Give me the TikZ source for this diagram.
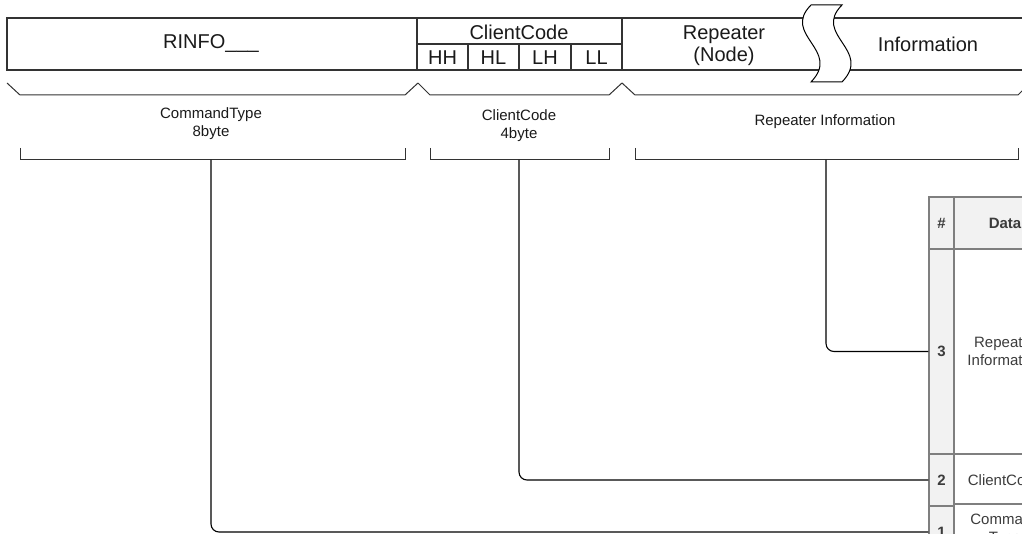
\documentclass[tikz,border=0pt]{standalone}
\usepackage{fontspec}
\setmainfont{Liberation Sans}
\definecolor{ink}{HTML}{1A1A1A}
\definecolor{edge}{HTML}{333333}
\definecolor{grid}{HTML}{7F7F7F}
\definecolor{shade}{HTML}{F2F2F2}
\begin{document}
\begin{tikzpicture}[x=1pt,y=-1pt,
  big/.style={font=\fontsize{20}{22}\selectfont, text=ink, inner sep=0pt, align=center},
  small/.style={font=\fontsize{15}{18}\selectfont, text=ink, inner sep=0pt, align=center},
  bar/.style={draw=edge, line width=1.1pt},
  brace/.style={draw=edge, line width=1pt, line join=miter},
  conn/.style={draw=black, line width=1.1pt, rounded corners=8pt},
  cell/.style={draw=grid, line width=1.4pt, inner sep=0pt, font=\fontsize{15}{18}\selectfont, text=ink!85, align=center},
  numcell/.style={cell, fill=shade, minimum width=25pt, font=\fontsize{15}{18}\selectfont\bfseries},
  datacell/.style={cell, minimum width=102pt},
]
\useasboundingbox (0,0) rectangle (1022,534);
\clip (0,0) rectangle (1022,534);

% ---- frame bar ----
\draw[bar] (7,18) rectangle (417,70);
\node[big] (rinfo) at (211,44) {RINFO\_\_\_};

\draw[bar] (417,18) rectangle (622,70);
\draw[bar] (417,44) -- (622,44);
\draw[bar] (468,44) -- (468,70) (519,44) -- (519,70) (571,44) -- (571,70);
\node[big] (cc) at (519,32) {ClientCode};
\node[big] (hh) at (442.5,57.5) {HH};
\node[big] (hl) at (493.5,57.5) {HL};
\node[big] (lh) at (545,57.5) {LH};
\node[big] (ll) at (596.5,57.5) {LL};

\draw[bar] (622,18) -- (1030,18) (622,70) -- (1030,70);
\node[big] (rep) at (724,45.5) {Repeater\\(Node)};
\node[big] (info) at (928,44.5) {Information};

% break mark
\draw[draw=black, line width=1pt, fill=white]
  (811,5) -- (842,5)
  .. controls (812,35) and (873,50) .. (842,82)
  -- (811,82)
  .. controls (842,50) and (781,35) .. (811,5) -- cycle;

% ---- braces ----
\draw[brace] (7,83) -- (20,95) -- (405,95) -- (418,83);
\draw[brace] (418,83) -- (430,95) -- (609,95) -- (622,83);
\draw[brace] (622,83) -- (635,95) -- (1018,95) -- (1030,83);

\node[small] (lab1) at (211,123.5) {CommandType\\8byte};
\node[small] (lab2) at (519,126) {ClientCode\\4byte};
\node[small] (lab3) at (825,122) {Repeater Information};

% ---- brackets ----
\draw[brace] (20,148) -- (20,160) -- (405,160) -- (405,148);
\draw[brace] (430,148) -- (430,160) -- (609,160) -- (609,148);
\draw[brace] (635,148) -- (635,160) -- (1018,160) -- (1018,148);
\coordinate (s1) at (211,160);
\coordinate (s2) at (519,160);
\coordinate (s3) at (826,160);

% ---- table ----
\node[numcell, minimum height=52pt] (hnum) at (941.5,223) {\#};
\node[datacell, fill=shade, minimum height=52pt, font=\fontsize{15}{18}\selectfont\bfseries] (hdata) at (1005,223) {Data};
\node[numcell, minimum height=205pt] (n3) at (941.5,351.5) {3};
\node[datacell, fill=white, minimum height=205pt] (d3) at (1005,351.5) {Repeater\\Information};
\node[numcell, minimum height=52pt] (n2) at (941.5,480) {2};
\node[datacell, fill=white, minimum height=52pt] (d2) at (1005,480) {ClientCode};
\node[numcell, minimum height=52pt] (n1) at (941.5,532) {1};
\node[datacell, fill=white, minimum height=52pt] (d1) at (1005,530) {Command\\Type};

% ---- connectors ----
\draw[conn] (s1) |- (n1.west);
\draw[conn] (s2) |- (n2.west);
\draw[conn] (s3) |- (n3.west);
\end{tikzpicture}
\end{document}
